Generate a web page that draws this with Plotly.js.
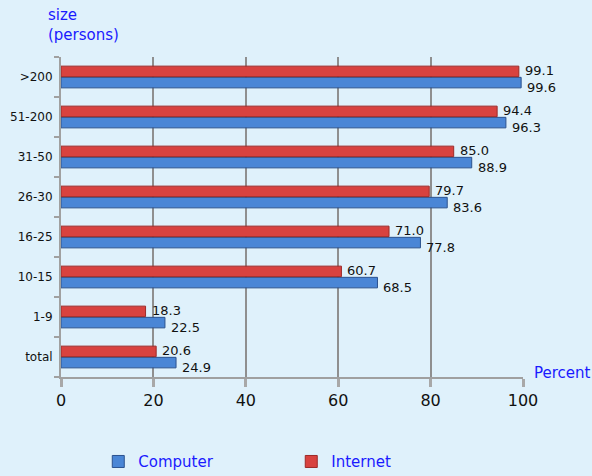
<!DOCTYPE html>
<html>
<head>
<meta charset="utf-8">
<script src="https://cdn.plot.ly/plotly-3.0.1.min.js"></script>
<style>html,body{margin:0;padding:0;background:#dff1fb;}#chart{width:592px;height:476px;}</style>
</head>
<body>
<div id="chart"></div>
<script>
const categories = ['total','1-9','10-15','16-25','26-30','31-50','51-200','>200'];
const computer = [24.9, 22.5, 68.5, 77.8, 83.6, 88.9, 96.3, 99.6];
const internet = [20.6, 18.3, 60.7, 71.0, 79.7, 85.0, 94.4, 99.1];
const xTicks = [0, 20, 40, 60, 80, 100];

const FONT = 'DejaVu Sans, Verdana, sans-serif';
const labelFont = {family: FONT, size: 13, color: '#111'};

const traces = [
  {
    type: 'bar', orientation: 'h', name: 'Computer', legend: 'legend',
    y: categories, x: computer,
    marker: {color: '#4a86d6', line: {color: '#2b528e', width: 1}},
    hoverinfo: 'x+y'
  },
  {
    type: 'bar', orientation: 'h', name: 'Internet', legend: 'legend2',
    y: categories, x: internet,
    marker: {color: '#d8423f', line: {color: '#9c2a28', width: 1}},
    hoverinfo: 'x+y'
  }
];

// value labels placed at the end of each bar
const valueLabels = [];
categories.forEach((c, i) => {
  valueLabels.push({x: internet[i], y: c, xref: 'x', yref: 'y', text: internet[i].toFixed(1),
    showarrow: false, xanchor: 'left', yanchor: 'middle', xshift: 4, yshift: 7, font: labelFont});
  valueLabels.push({x: computer[i], y: c, xref: 'x', yref: 'y', text: computer[i].toFixed(1),
    showarrow: false, xanchor: 'left', yanchor: 'middle', xshift: 4, yshift: -10, font: labelFont});
});

const legendCommon = {
  orientation: 'h', xref: 'container', yref: 'container', yanchor: 'middle', xanchor: 'left',
  font: {family: FONT, size: 15, color: '#1a1aff'}, itemwidth: 30, bgcolor: 'rgba(0,0,0,0)'
};

const layout = {
  width: 592, height: 476,
  paper_bgcolor: '#dff1fb', plot_bgcolor: '#dff1fb',
  margin: {l: 61, r: 69, t: 57, b: 99, autoexpand: false},
  barmode: 'group', bargap: 0.44, bargroupgap: 0.06,
  showlegend: true,
  legend: Object.assign({}, legendCommon, {x: 0.166, y: 0.03}),
  legend2: Object.assign({}, legendCommon, {x: 0.492, y: 0.03}),
  xaxis: {
    range: [0, 100], tickvals: xTicks, ticktext: xTicks.map(String),
    showgrid: true, gridcolor: '#8f8f8f', gridwidth: 2,
    zeroline: false,
    showline: true, linecolor: '#a0a0a0', linewidth: 2,
    ticks: 'outside', ticklen: 8, tickwidth: 3, tickcolor: '#a8a8a8',
    tickfont: {family: FONT, size: 16, color: '#111'},
    fixedrange: true
  },
  yaxis: {
    type: 'category', categoryorder: 'array', categoryarray: categories,
    showgrid: false, zeroline: false,
    showline: true, linecolor: '#a0a0a0', linewidth: 2,
    ticks: 'outside', tickson: 'boundaries', ticklen: 5, tickwidth: 2, tickcolor: '#a0a0a0',
    tickfont: {family: FONT, size: 12, color: '#111'},
    ticklabelstandoff: 4,
    fixedrange: true
  },
  annotations: valueLabels.concat([
    {xref: 'paper', yref: 'paper', x: -0.032, y: 1.165, xanchor: 'left', yanchor: 'top',
     text: 'size<br>(persons)', showarrow: false, align: 'left',
     font: {family: FONT, size: 15, color: '#1a1aff'}},
    {xref: 'paper', yref: 'paper', x: 1.02, y: 0.0125, xanchor: 'left', yanchor: 'middle',
     text: 'Percent', showarrow: false,
     font: {family: FONT, size: 15, color: '#1a1aff'}}
  ])
};

Plotly.newPlot('chart', traces, layout, {displayModeBar: false, staticPlot: true});
</script>
</body>
</html>
